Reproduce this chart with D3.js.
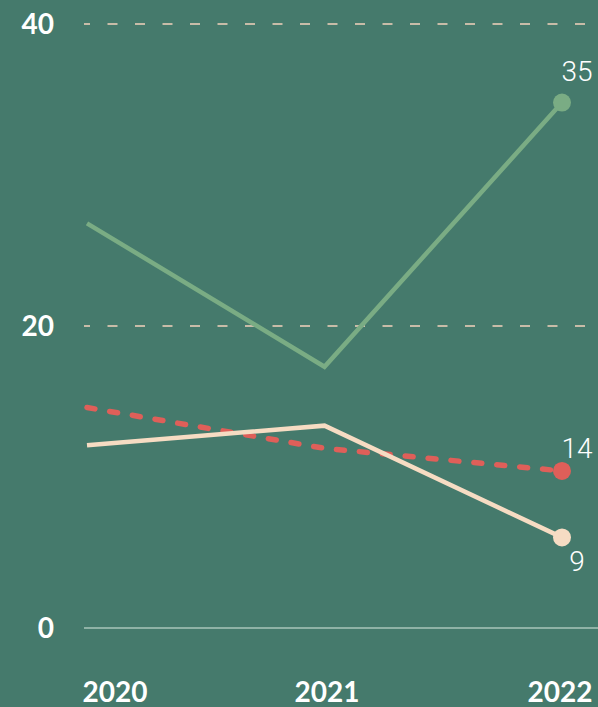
<!DOCTYPE html>
<html>
<head>
<meta charset="utf-8">
<script src="https://d3js.org/d3.v7.min.js"></script>
<style>
body { margin: 0; background: #457a6c; }
svg { display: block; font-family: Lato, "Open Sans", sans-serif; }
</style>
</head>
<body>
<script>
// data
var years = [2020, 2021, 2022];
var greenValues = [26.8, 17.3, 34.8];
var redValues = [14.6, 11.9, 10.4];
var creamValues = [12.1, 13.4, 6.0];
var endLabels = ["35", "14", "9"];
var yTicks = [0, 20, 40];

var width = 598, height = 707;

var svg = d3.select("body").append("svg")
    .attr("width", width)
    .attr("height", height);

svg.append("rect").attr("width", width).attr("height", height).attr("fill", "#457a6c");

var x = d3.scaleLinear().domain([2020, 2022]).range([87, 562]);
var y = d3.scaleLinear().domain([0, 40]).range([628, 24]);

// grid lines
svg.selectAll(".grid")
    .data(yTicks.filter(function(d) { return d > 0; }))
    .enter().append("line")
    .attr("x1", 84).attr("x2", width)
    .attr("y1", function(d) { return y(d); })
    .attr("y2", function(d) { return y(d); })
    .attr("stroke", "#c8bca8")
    .attr("stroke-width", 2)
    .attr("stroke-dasharray", "10,17.5")
    .attr("stroke-dashoffset", 4);

// baseline
svg.append("line")
    .attr("x1", 84).attr("x2", width)
    .attr("y1", y(0)).attr("y2", y(0))
    .attr("stroke", "#a9c6ba")
    .attr("stroke-width", 1.5);

// y labels
svg.selectAll(".ylab")
    .data(yTicks)
    .enter().append("text")
    .attr("x", 54)
    .attr("y", function(d) { return y(d) + 10; })
    .attr("text-anchor", "end")
    .attr("fill", "#fff")
    .attr("font-size", 28)
    .attr("font-weight", 700)
    .text(function(d) { return d; });

// x labels
var xLabelPos = [115, 327, 560];
svg.selectAll(".xlab")
    .data(years)
    .enter().append("text")
    .attr("x", function(d, i) { return xLabelPos[i]; })
    .attr("y", 702)
    .attr("text-anchor", "middle")
    .attr("fill", "#fff")
    .attr("font-size", 28)
    .attr("font-weight", 700)
    .text(function(d) { return d; });

var series = [
    { values: greenValues, color: "#7aac84", dash: null, w: 4.5, label: endLabels[0], dy: -22 },
    { values: redValues, color: "#df5f59", dash: "8,15", w: 5.5, label: endLabels[1], dy: -13 },
    { values: creamValues, color: "#f6dcc3", dash: null, w: 4.5, label: endLabels[2], dy: 34 }
];

var line = d3.line()
    .x(function(d, i) { return x(years[i]); })
    .y(function(d) { return y(d); });

series.forEach(function(s) {
    svg.append("path")
        .attr("d", line(s.values))
        .attr("fill", "none")
        .attr("stroke", s.color)
        .attr("stroke-width", s.w)
        .attr("stroke-linecap", s.dash ? "round" : "butt")
        .attr("stroke-dasharray", s.dash);
    var last = s.values[s.values.length - 1];
    svg.append("circle")
        .attr("cx", x(years[2]))
        .attr("cy", y(last))
        .attr("r", 9)
        .attr("fill", s.color);
    svg.append("text")
        .attr("x", 577)
        .attr("y", y(last) + s.dy)
        .attr("text-anchor", "middle")
        .attr("fill", "#fff")
        .attr("font-family", "Roboto, sans-serif")
        .attr("font-size", 28)
        .attr("font-weight", 300)
        .text(s.label);
});
</script>
</body>
</html>
